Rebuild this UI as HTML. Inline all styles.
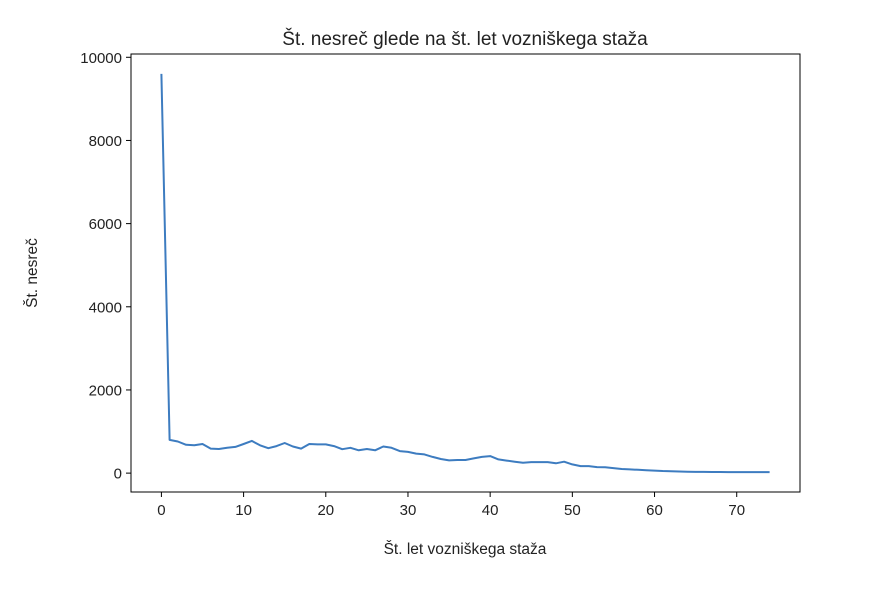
<!DOCTYPE html>
<html><head><meta charset="utf-8"><style>
body{margin:0;background:#fff;}
text{font-family:"Liberation Sans","DejaVu Sans",sans-serif;fill:#222;}
</style></head><body>
<svg id="chart" width="872" height="586" xmlns="http://www.w3.org/2000/svg">
<text x="465" y="45" font-size="19" text-anchor="middle">Št. nesreč glede na št. let vozniškega staža</text>
<g id="axes"></g>
<text x="465" y="554" font-size="15.5" text-anchor="middle">Št. let vozniškega staža</text>
<text x="0" y="0" font-size="15.5" text-anchor="middle" transform="translate(37,273) rotate(-90)">Št. nesreč</text>
</svg>
<script>
const years = [];
for (let i = 0; i <= 74; i++) years.push(i);
const accidents = [9600,800,760,680,670,700,590,580,610,630,700,775,670,600,650,725,640,590,700,690,690,650,575,610,550,580,550,640,610,530,510,470,450,390,340,305,315,315,355,390,410,330,300,275,250,265,265,265,235,275,210,170,170,145,140,120,100,90,80,70,60,50,45,40,35,30,30,28,28,25,25,25,25,25,25];
const xTicks = [0,10,20,30,40,50,60,70];
const yTicks = [0,2000,4000,6000,8000,10000];
const L=131,R=800,T=54,B=492;
const xMin=-3.7,xMax=77.7,yMin=-454,yMax=10079;
const sx=v=>L+(v-xMin)/(xMax-xMin)*(R-L);
const sy=v=>B-(v-yMin)/(yMax-yMin)*(B-T);
const ns="http://www.w3.org/2000/svg";
const g=document.getElementById('axes');
function mk(tag,attrs){const e=document.createElementNS(ns,tag);for(const k in attrs)e.setAttribute(k,attrs[k]);g.appendChild(e);return e;}
const frame=mk('rect',{x:L,y:T,width:R-L,height:B-T,fill:'none',stroke:'#000','stroke-width':1});


xTicks.forEach(t=>{
  const x=sx(t);
  const tk=mk('line',{x1:x,x2:x,y1:B,y2:B+5,stroke:'#000'});
  
  
  const lb=mk('text',{x:x,y:B+23,'font-size':15,'text-anchor':'middle'});
  lb.textContent=t;
  
  
});
yTicks.forEach(t=>{
  const y=sy(t);
  const tk=mk('line',{x1:L-5,x2:L,y1:y,y2:y,stroke:'#000'});
  
  
  const lb=mk('text',{x:L-9,y:y+5.5,'font-size':15,'text-anchor':'end'});
  lb.textContent=t;
  
  
});
const d=years.map((v,i)=>(i?'L':'M')+sx(v).toFixed(1)+','+sy(accidents[i]).toFixed(1)).join(' ');
const line=mk('path',{d:d,fill:'none',stroke:'#3d7cc0','stroke-width':2,'stroke-linejoin':'round'});


</script>
</body></html>
